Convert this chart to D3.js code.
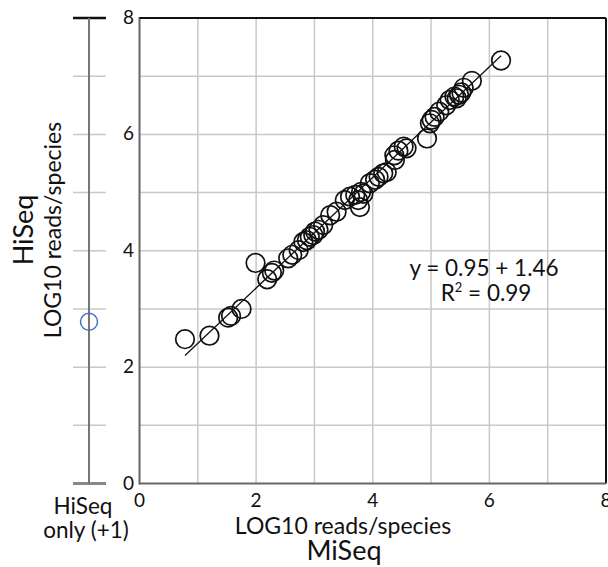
<!DOCTYPE html>
<html>
<head>
<meta charset="utf-8">
<script src="https://cdn.jsdelivr.net/npm/d3@7"></script>
<style>
  body { margin: 0; background: #fff; }
  text { font-family: Lato, "Open Sans", sans-serif; fill: #111; }
</style>
</head>
<body>
<div id="chart"></div>
<script>
// data: MiSeq (x) vs HiSeq (y), log10 reads/species
let miseq = [0.78, 1.20, 1.52, 1.57, 1.75, 1.99, 2.19, 2.27, 2.31, 2.55,
             2.62, 2.73, 2.81, 2.87, 2.92, 2.98, 3.01, 3.07, 3.15, 3.27,
             3.38, 3.52, 3.61, 3.70, 3.75, 3.78, 3.80, 3.84, 3.95, 4.04,
             4.10, 4.18, 4.24, 4.37, 4.38, 4.44, 4.53, 4.58, 4.93, 4.98,
             5.01, 5.06, 5.14, 5.26, 5.32, 5.40, 5.44, 5.48, 5.52, 5.56,
             5.70, 6.20];
let hiseq = [2.48, 2.54, 2.85, 2.88, 3.00, 3.79, 3.51, 3.62, 3.66, 3.87,
             3.93, 4.01, 4.15, 4.18, 4.24, 4.27, 4.33, 4.36, 4.44, 4.61,
             4.67, 4.87, 4.93, 4.96, 4.87, 4.75, 5.01, 4.98, 5.16, 5.22,
             5.27, 5.33, 5.35, 5.64, 5.56, 5.72, 5.79, 5.76, 5.93, 6.19,
             6.25, 6.30, 6.39, 6.50, 6.59, 6.65, 6.62, 6.68, 6.72, 6.80,
             6.92, 7.27];
let hiseqOnly = [2.78];       // species seen only in HiSeq (+1)
let fitSlope = 0.95, fitIntercept = 1.46;
let tickValues = [0, 2, 4, 6, 8];
let gridValues = [1, 2, 3, 4, 5, 6, 7];

let width = 608, height = 567;

let svg = d3.select("#chart").append("svg")
    .attr("width", width)
    .attr("height", height);

let x = d3.scaleLinear().domain([0, 8]).range([139.5, 606]);
let y = d3.scaleLinear().domain([0, 8]).range([483.5, 18]);

// grid
svg.append("g").selectAll("line.gx")
    .data(gridValues).join("line")
    .attr("x1", d => x(d)).attr("x2", d => x(d))
    .attr("y1", y(8)).attr("y2", y(0))
    .attr("stroke", "#c8c8c8").attr("stroke-width", 1.5);
svg.append("g").selectAll("line.gy")
    .data(gridValues).join("line")
    .attr("x1", x(0)).attr("x2", x(8))
    .attr("y1", d => y(d)).attr("y2", d => y(d))
    .attr("stroke", "#c8c8c8").attr("stroke-width", 1.5);

// fit annotation (grid shows through it)
svg.append("text").attr("x", 484).attr("y", 276)
    .attr("text-anchor", "middle").style("font-size", "22.5px")
    .text("y = 0.95 + 1.46");
let r2 = svg.append("text").attr("x", 486).attr("y", 301)
    .attr("text-anchor", "middle").style("font-size", "22.5px");
r2.append("tspan").text("R");
r2.append("tspan").attr("dy", -9).style("font-size", "13px").text("2");
r2.append("tspan").attr("dy", 9).text(" = 0.99");

// frame
svg.append("line").attr("x1", x(0)).attr("x2", x(8)).attr("y1", y(8)).attr("y2", y(8))
    .attr("stroke", "#111").attr("stroke-width", 2);
svg.append("line").attr("x1", x(8)).attr("x2", x(8)).attr("y1", y(8)).attr("y2", y(0))
    .attr("stroke", "#111").attr("stroke-width", 2);
svg.append("line").attr("x1", x(0)).attr("x2", x(8)).attr("y1", y(0)).attr("y2", y(0))
    .attr("stroke", "#666").attr("stroke-width", 2);
svg.append("line").attr("x1", x(0)).attr("x2", x(0)).attr("y1", y(8) - 1).attr("y2", y(0) + 1)
    .attr("stroke", "#666").attr("stroke-width", 2);
svg.append("line").attr("x1", x(0)).attr("x2", x(0) + 4).attr("y1", y(8)).attr("y2", y(8))
    .attr("stroke", "#111").attr("stroke-width", 2);

// regression line over the data range
let xr = d3.extent(miseq);
svg.append("line")
    .attr("x1", x(xr[0])).attr("y1", y(fitSlope * xr[0] + fitIntercept))
    .attr("x2", x(xr[1])).attr("y2", y(fitSlope * xr[1] + fitIntercept))
    .attr("stroke", "#111").attr("stroke-width", 1.3);

// points
svg.append("g").selectAll("circle")
    .data(d3.zip(miseq, hiseq)).join("circle")
    .attr("cx", d => x(d[0])).attr("cy", d => y(d[1]))
    .attr("r", 9.3)
    .attr("fill", "none").attr("stroke", "#111").attr("stroke-width", 1.7);

// tick labels
svg.append("g").selectAll("text")
    .data(tickValues).join("text")
    .attr("x", 134).attr("y", d => y(d) + 6)
    .attr("text-anchor", "end").style("font-size", "19px")
    .text(d => d);
svg.append("g").selectAll("text")
    .data(tickValues).join("text")
    .attr("x", d => x(d)).attr("y", 507)
    .attr("text-anchor", "middle").style("font-size", "19px")
    .text(d => d);

// HiSeq-only axis on the left
let ax = 89;
svg.append("g").selectAll("line")
    .data(gridValues).join("line")
    .attr("x1", 73).attr("x2", 106)
    .attr("y1", d => y(d)).attr("y2", d => y(d))
    .attr("stroke", "#c8c8c8").attr("stroke-width", 1.5);
svg.append("line").attr("x1", 73).attr("x2", 106).attr("y1", y(8)).attr("y2", y(8))
    .attr("stroke", "#111").attr("stroke-width", 2.5);
svg.append("line").attr("x1", 73).attr("x2", 106).attr("y1", y(0)).attr("y2", y(0))
    .attr("stroke", "#888").attr("stroke-width", 3);
svg.append("line").attr("x1", ax).attr("x2", ax).attr("y1", y(8)).attr("y2", y(0))
    .attr("stroke", "#777").attr("stroke-width", 2);
svg.append("g").selectAll("circle")
    .data(hiseqOnly).join("circle")
    .attr("cx", ax).attr("cy", d => y(d))
    .attr("r", 8.5)
    .attr("fill", "none").attr("stroke", "#4472c4").attr("stroke-width", 1.5);
svg.append("text").attr("x", 83).attr("y", 514)
    .attr("text-anchor", "middle").style("font-size", "22.5px").text("HiSeq");
svg.append("text").attr("x", 86).attr("y", 538)
    .attr("text-anchor", "middle").style("font-size", "22.5px").text("only (+1)");

// axis titles
svg.append("text").attr("x", 343).attr("y", 534)
    .attr("text-anchor", "middle").style("font-size", "23px")
    .text("LOG10 reads/species");
svg.append("text").attr("x", 344).attr("y", 560)
    .attr("text-anchor", "middle").style("font-size", "27px")
    .text("MiSeq");
svg.append("text").attr("transform", "translate(33,230) rotate(-90)")
    .attr("text-anchor", "middle").style("font-size", "27px")
    .text("HiSeq");
svg.append("text").attr("transform", "translate(61,230) rotate(-90)")
    .attr("text-anchor", "middle").style("font-size", "23px")
    .text("LOG10 reads/species");
</script>
</body>
</html>
